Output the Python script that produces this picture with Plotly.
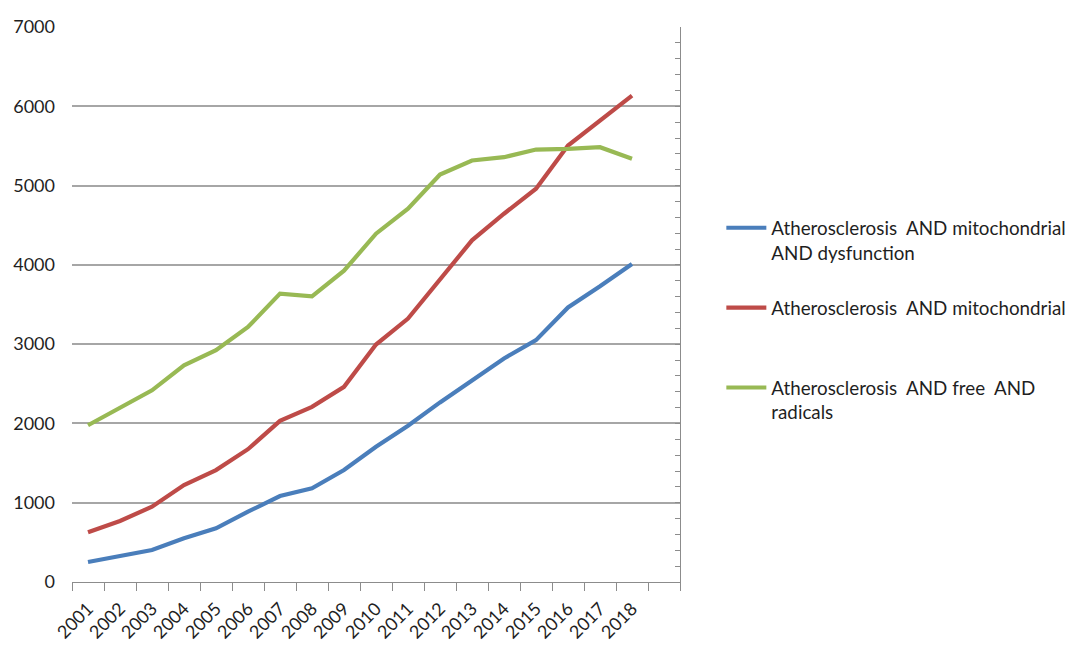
import plotly.graph_objects as go

# Publication counts per year for three literature queries
years = list(range(2001, 2019))

mito_dysfunction = [253, 329, 404, 551, 677, 887, 1084, 1181, 1412, 1705, 1970,
                    2265, 2540, 2820, 3050, 3463, 3730, 4012]
mitochondrial = [627, 770, 950, 1223, 1412, 1675, 2033, 2209, 2461, 2995, 3322,
                 3820, 4309, 4645, 4960, 5505, 5820, 6135]
free_radicals = [1977, 2200, 2418, 2734, 2924, 3216, 3637, 3603, 3926, 4393, 4708,
                 5140, 5316, 5358, 5454, 5463, 5484, 5338]

# every legend entry occupies two text lines so the entries are evenly spaced
series_names = [
    "Atherosclerosis  AND mitochondrial<br>AND dysfunction",
    "Atherosclerosis  AND mitochondrial<br>\u00a0",
    "Atherosclerosis  AND free  AND<br>radicals",
]
series_values = [mito_dysfunction, mitochondrial, free_radicals]
series_colors = ["#4A7EBB", "#BE4B48", "#98B954"]

FONT = "Lato, 'Open Sans', sans-serif"
TEXT = "#1f1f1f"
GRID = "#A6A6A6"
AXIS = "#8C8C8C"

fig = go.Figure()
for i, (name, vals, col) in enumerate(zip(series_names, series_values, series_colors)):
    fig.add_trace(go.Scatter(
        x=years, y=vals, mode="lines", name=name,
        line=dict(color=col, width=4.2),
        legendgroup=f"g{i}",
    ))

# secondary axis on the right carrying the minor tick marks
fig.add_trace(go.Scatter(x=[], y=[], yaxis="y2", showlegend=False, hoverinfo="skip"))

fig.update_layout(
    width=1072, height=653,
    margin=dict(l=72, r=392, t=27, b=71, autoexpand=False),
    paper_bgcolor="white", plot_bgcolor="white",
    font=dict(family=FONT, color=TEXT, size=18),
    showlegend=True,
    legend=dict(
        x=1.068, y=0.672, xanchor="left", yanchor="top",
        valign="top", traceorder="grouped", tracegroupgap=28,
        itemwidth=40,
        font=dict(family=FONT, size=18.8, color=TEXT),
        bgcolor="rgba(0,0,0,0)",
    ),
    xaxis=dict(
        range=[2000.5, 2019.5],
        tickmode="array", tickvals=years, ticktext=[str(y) for y in years],
        ticks="", tickangle=-45, ticklabelstandoff=8,
        tickfont=dict(family=FONT, size=18, color=TEXT),
        showgrid=False, zeroline=False,
        showline=True, linecolor=AXIS, linewidth=1.3,
        minor=dict(ticks="outside", tick0=2000.5, dtick=1, ticklen=8,
                   tickcolor=AXIS, tickwidth=1.3, showgrid=False),
    ),
    yaxis=dict(
        range=[0, 7000], dtick=1000, tick0=0,
        showgrid=True, gridcolor=GRID, gridwidth=1.5,
        zeroline=False, showline=False, ticks="",
        ticklabelstandoff=16,
        tickfont=dict(family=FONT, size=18, color=TEXT),
    ),
    yaxis2=dict(
        overlaying="y", side="right", range=[0, 7000],
        tickmode="linear", tick0=0, dtick=200,
        ticks="inside", ticklen=5, tickcolor=AXIS, tickwidth=1.2,
        showticklabels=False, showgrid=False, zeroline=False,
        showline=True, linecolor=AXIS, linewidth=1.3,
    ),
)

fig.write_html("out.html")
